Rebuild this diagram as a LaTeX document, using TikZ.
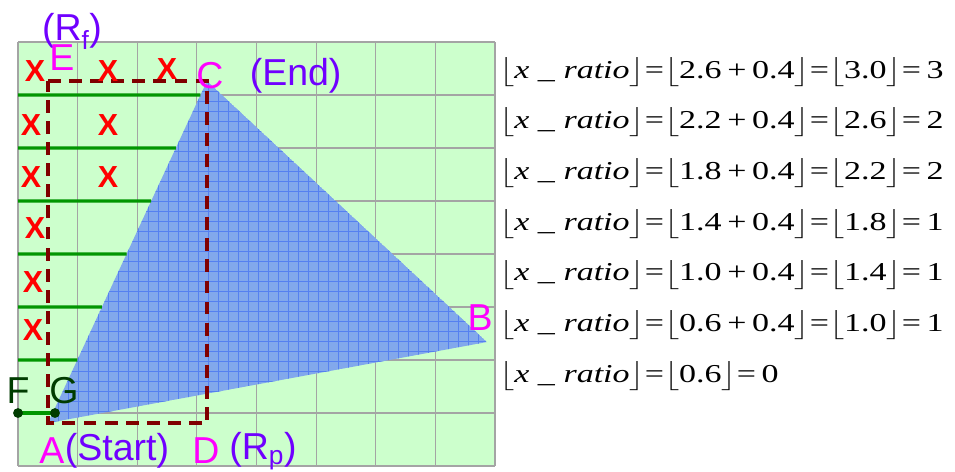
\documentclass[tikz,border=0pt]{standalone}
\usepackage{amsmath}
\usepackage{fontspec}
\setmainfont{Liberation Sans}
\newfontfamily\eqfont{Liberation Serif}
\usetikzlibrary{positioning,calc}
\definecolor{bggreen}{HTML}{CCFFCC}
\definecolor{gridgray}{HTML}{A4A4A4}
\definecolor{trifill}{HTML}{82A8EC}
\definecolor{triline}{HTML}{5580F0}
\definecolor{dashred}{HTML}{800000}
\definecolor{lblmag}{HTML}{FF00FF}
\definecolor{lblvio}{HTML}{7000FF}
\definecolor{markred}{HTML}{FF0000}
\definecolor{linegreen}{HTML}{009600}
\definecolor{ptgreen}{HTML}{003C00}
\newcommand{\xratio}{$\big\lfloor$\textit{x \_ ratio}$\big\rfloor$}

\begin{document}
\begin{tikzpicture}[x=0.03cm, y=-0.03cm,
  lbl/.style={font=\fontsize{32}{36}\selectfont, inner sep=0pt},
  mag/.style={lbl, text=lblmag},
  vio/.style={lbl, text=lblvio},
  xmark/.style={font=\fontsize{26}{30}\selectfont\bfseries, text=markred, inner sep=0pt},
  gline/.style={draw=linegreen, line width=2.6pt},
  dashbox/.style={draw=dashred, line width=3.2pt, dash pattern=on 11pt off 7pt},
  eqtext/.style={font=\eqfont\fontsize{22}{30}\selectfont, anchor=base west, inner sep=0pt}]
  \useasboundingbox (0,0) rectangle (955,471);
  % background and grid
  \fill[bggreen] (18,42) rectangle (495,466);
  \foreach \k in {0,...,8}{
    \draw[gridgray, line width=1pt] ({18+59.625*\k},42) -- ({18+59.625*\k},466);
    \draw[gridgray, line width=1pt] (18,{42+53*\k}) -- (495,{42+53*\k});
  }
  % corners
  \coordinate (A) at (48,423);
  \coordinate (B) at (487,342);
  \coordinate (C) at (207,81);
  \coordinate (D) at (207,423);
  \coordinate (E) at (48,81);
  \coordinate (F) at (18,413);
  \coordinate (G) at (55,413);
  % triangle
  \begin{scope}
    \clip (A) -- (B) -- (C) -- cycle;
    \fill[trifill] (A) -- (B) -- (C) -- cycle;
    \foreach \k in {0,...,44}{
      \draw[triline, line width=0.5pt] ({48+10*\k},81) -- ({48+10*\k},423);
    }
    \foreach \k in {0,...,34}{
      \draw[triline, line width=0.5pt] (48,{81+10*\k}) -- (487,{81+10*\k});
    }
  \end{scope}
  % green lines up to AC
  \foreach \y in {95,148,201,254,307,360}{
    \draw[gline] (18,\y) -- ($(A)!{(423-\y)/342}!(C)$);
  }
  \draw[gline] (F) -- (G);
  \fill[ptgreen] (F) circle (4.2pt);
  \fill[ptgreen] (G) circle (4.2pt);
  % dashed box
  \draw[dashbox] (E) -- (C) -- (D) -- (A) -- cycle;
  % x marks
  \foreach \mx/\my [count=\n] in {35/71, 108/71, 167/69, 31/125, 108/125, 31/177, 108/177, 35/228, 33/282, 33/330}{
    \node[xmark] (x\n) at (\mx,\my) {X};
  }
  % labels
  \node[vio] (lRf) at (72,31) {(R\textsubscript{f})};
  \node[mag] (lE) at (62,58) {E};
  \node[mag] (lC) at (210,76) {C};
  \node[vio, right=22pt of lC] (lEnd) {(End)};
  \node[mag] (lB) at (480,318) {B};
  \node[lbl, text=ptgreen] (lF) at (18,391) {F};
  \node[lbl, text=ptgreen] (lG) at (64,391) {G};
  \node[mag] (lA) at (52,451) {A};
  \node[vio, right=0pt of lA] (lStart) {(Start)};
  \node[mag] (lD) at (206,451) {D};
  \node[vio, right=8pt of lD] (lRp) {(R\textsubscript{p})};
  % floor equations
  \foreach \a/\b/\c [count=\i] in {2.6/3.0/3, 2.2/2.6/2, 1.8/2.2/2, 1.4/1.8/1, 1.0/1.4/1, 0.6/1.0/1}{
    \node[eqtext] (eq\i) at (499,{78+50.67*(\i-1)}) {\scalebox{1.32}[1]{\xratio=$\big\lfloor$\a\,+\,0.4$\big\rfloor$=$\big\lfloor$\b$\big\rfloor$=\,\c}};
  }
  \node[eqtext] (eq7) at (499,382) {\scalebox{1.32}[1]{\xratio=$\big\lfloor$0.6$\big\rfloor$=\,0}};
\end{tikzpicture}
\end{document}
